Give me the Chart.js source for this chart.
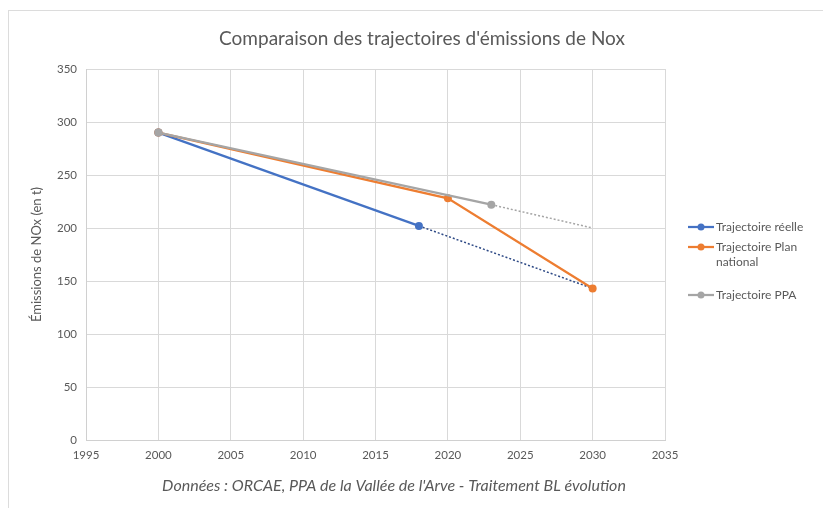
<!DOCTYPE html>
<html><head><meta charset="utf-8">
<script src="https://cdn.jsdelivr.net/npm/chart.js@4"></script>
<style>
html,body{margin:0;padding:0;background:#fff;}
#wrap{position:relative;width:823px;height:508px;}
#frame{position:absolute;left:8px;top:10px;width:830px;height:520px;border:1px solid #dcdcdc;box-sizing:border-box;}
canvas{position:absolute;left:0;top:0;}
</style></head>
<body><div id="wrap"><div id="frame"></div><canvas id="c" width="823" height="508"></canvas></div>
<script>
const yearsReelle = [2000, 2018];
const valuesReelle = [290, 202];
const yearsPlan = [2000, 2020, 2030];
const valuesPlan = [290, 228, 143];
const yearsPPA = [2000, 2023];
const valuesPPA = [290, 222];
const yearsProjReelle = [2018, 2030];
const valuesProjReelle = [202, 143];
const yearsProjPPA = [2023, 2030];
const valuesProjPPA = [222, 200];
const xTicks = [1995, 2000, 2005, 2010, 2015, 2020, 2025, 2030, 2035];
const yTicks = [0, 50, 100, 150, 200, 250, 300, 350];
const legendLabels = [["Trajectoire réelle"], ["Trajectoire Plan", "national"], ["Trajectoire PPA"]];
const footerText = "Données : ORCAE, PPA de la Vallée de l'Arve - Traitement BL évolution";

const BLUE = '#4472C4', ORANGE = '#ED7D31', GRAY = '#A5A5A5', TXT = '#595959';
const pts = (xs, ys) => xs.map((x, i) => ({x: x, y: ys[i]}));
const FONT = 'Lato, "Open Sans", sans-serif';

const extrasPlugin = {
  id: 'extras',
  afterDraw(chart) {
    const ctx = chart.ctx;
    const items = [
      {color: BLUE, y: 227, lines: legendLabels[0]},
      {color: ORANGE, y: 247, lines: legendLabels[1]},
      {color: GRAY, y: 295, lines: legendLabels[2]}
    ];
    ctx.save();
    items.forEach(it => {
      ctx.strokeStyle = it.color; ctx.lineWidth = 2.25;
      ctx.beginPath(); ctx.moveTo(688, it.y); ctx.lineTo(714, it.y); ctx.stroke();
      ctx.fillStyle = it.color;
      ctx.beginPath(); ctx.arc(701, it.y, 3.5, 0, Math.PI * 2); ctx.fill();
      ctx.fillStyle = TXT; ctx.font = '12px ' + FONT; ctx.textBaseline = 'middle'; ctx.textAlign = 'left';
      it.lines.forEach((l, i) => ctx.fillText(l, 716, it.y + i * 15));
    });
    ctx.font = 'italic 16px ' + FONT; ctx.textAlign = 'center'; ctx.textBaseline = 'middle';
    ctx.fillStyle = TXT;
    ctx.fillText(footerText, 394, 486);
    ctx.restore();
  }
};

new Chart(document.getElementById('c'), {
  type: 'scatter',
  data: {
    datasets: [
      {label: 'Trajectoire réelle', data: pts(yearsReelle, valuesReelle), showLine: true, borderColor: BLUE, backgroundColor: BLUE, borderWidth: 2.25, pointRadius: 4, pointBorderWidth: 0, order: 3},
      {label: 'Trajectoire Plan national', data: pts(yearsPlan, valuesPlan), showLine: true, borderColor: ORANGE, backgroundColor: ORANGE, borderWidth: 2.25, pointRadius: 4, pointBorderWidth: 0, order: 2},
      {label: 'Trajectoire PPA', data: pts(yearsPPA, valuesPPA), showLine: true, borderColor: GRAY, backgroundColor: GRAY, borderWidth: 2.25, pointRadius: 4, pointBorderWidth: 0, order: 1},
      {label: 'proj réelle', data: pts(yearsProjReelle, valuesProjReelle), showLine: true, borderColor: '#2E4A86', borderWidth: 1.5, borderDash: [2, 2], pointRadius: 0, order: 4},
      {label: 'proj PPA', data: pts(yearsProjPPA, valuesProjPPA), showLine: true, borderColor: '#A5A5A5', borderWidth: 1.5, borderDash: [2, 2], pointRadius: 0, order: 5}
    ]
  },
  options: {
    responsive: false,
    animation: false,
    layout: {padding: {left: 21, right: 0, top: 0, bottom: 38}},
    plugins: {
      legend: {display: false},
      tooltip: {enabled: false},
      title: {display: true, text: "Comparaison des trajectoires d'émissions de Nox", color: TXT, font: {family: FONT, size: 19, weight: 'normal'}, padding: {top: 27, bottom: 19.2}}
    },
    scales: {
      x: {
        type: 'linear', min: xTicks[0], max: xTicks[xTicks.length - 1],
        afterBuildTicks: s => { s.ticks = xTicks.map(v => ({value: v})); },
        afterFit: s => { s.height = 30; },
        grid: {color: '#d9d9d9', drawTicks: false},
        border: {color: '#d0d0d0'},
        ticks: {color: TXT, font: {family: FONT, size: 11.5}, padding: 8, callback: v => String(v)}
      },
      y: {
        min: yTicks[0], max: yTicks[yTicks.length - 1],
        afterBuildTicks: s => { s.ticks = yTicks.map(v => ({value: v})); },
        afterFit: s => { s.width = 65; },
        grid: {color: '#d9d9d9', drawTicks: false},
        border: {color: '#d0d0d0'},
        ticks: {color: TXT, font: {family: FONT, size: 11.5}, padding: 9},
        title: {display: true, text: 'Émissions de NOx (en t)', color: TXT, font: {family: FONT, size: 13}, padding: {top: 8, bottom: 0}}
      },
      yRight: {
        position: 'right', display: true,
        afterFit: s => { s.width = 158; },
        grid: {display: false, drawTicks: false}, border: {display: false},
        ticks: {display: false}
      }
    }
  },
  plugins: [extrasPlugin]
});
</script></body></html>
